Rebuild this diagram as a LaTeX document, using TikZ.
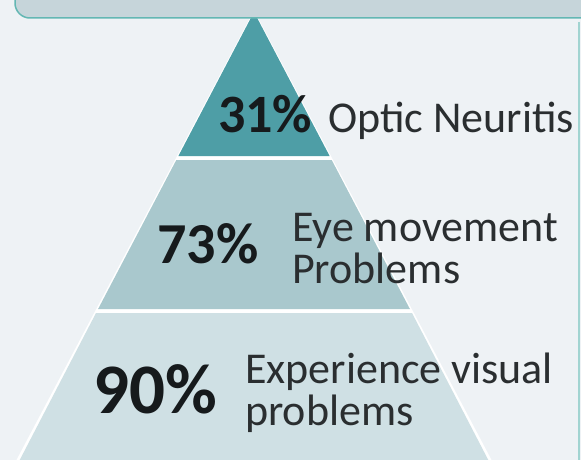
\documentclass[tikz,border=0pt]{standalone}
\usepackage{fontspec}
\setmainfont{Carlito}

\definecolor{bgcol}{HTML}{EEF2F5}
\definecolor{tiertop}{HTML}{4E9EA6}
\definecolor{tiermid}{HTML}{A9C8CD}
\definecolor{tierbot}{HTML}{CFE0E4}
\definecolor{headfill}{HTML}{C6D5DA}
\definecolor{headline}{HTML}{63B7B3}
\definecolor{pctcol}{HTML}{161A1C}
\definecolor{lblcol}{HTML}{2A2E30}

\tikzset{
  pct/.style={font=\bfseries\fontsize{#1}{#1}\selectfont, text=pctcol, inner sep=0pt, anchor=base west},
  lbl/.style={font=\fontsize{44}{42}\selectfont, text=lblcol, inner sep=0pt, anchor=base west, align=left},
}

\begin{document}
\begin{tikzpicture}[x=1pt,y=-1pt]
	\fill[bgcol] (0,0) rectangle (581,460);
	\useasboundingbox (0,0) rectangle (581,460);
	
	% white outline of the pyramid
	\filldraw[white, line width=1.5pt] (254,12) -- (497,472) -- (11,472) -- cycle;
	
	% tiers
	\fill[tiertop] (254,12) -- (329.6,156) -- (178.4,156) -- cycle;
	\fill[tiermid] (176.3,160) -- (331.7,160) -- (409.9,309) -- (98.1,309) -- cycle;
	\fill[tierbot] (96,313) -- (412,313) -- (494.5,472) -- (13.5,472) -- cycle;
	
	% header box and right frame
	\draw[headline, fill=headfill, line width=1.5pt, rounded corners=15pt] (15,-40) rectangle (640,18);
	\draw[headline!60, line width=1.5pt] (579,22) -- (579,470);
	
	\node[pct=54] (p31) at (218,132) {31\%};
	\node[lbl] (optic) at (328,132) {Optic Neuritis};
	
	\node[pct=58] (p73) at (157,263) {73\%};
	% base of a two-line node is its last line
	\node[lbl] (eye) at (292,283) {Eye movement\\Problems};
	
	\node[pct=71] (p90) at (93,413) {90\%};
	\node[lbl] (exper) at (245,425) {Experience visual\\problems};
\end{tikzpicture}
\end{document}
